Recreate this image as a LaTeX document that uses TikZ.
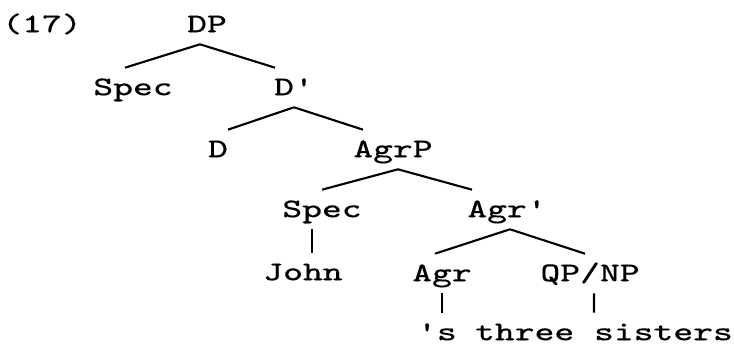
\documentclass[tikz,border=0pt]{standalone}
\usepackage{fontspec}
\newfontfamily\treefont[FakeStretch=1.38,FakeBold=0.2,Ligatures=TeXOff]{Latin Modern Mono}
\usetikzlibrary{positioning}

\begin{document}
\begin{tikzpicture}[on grid, line width=0.6pt,
    every node/.style={font=\treefont\fontsize{7.7}{9}\selectfont,
      inner xsep=0pt, inner ysep=0.11cm, text height=0.155cm, text depth=0pt}]
    \useasboundingbox (0,0) rectangle (7.34,-3.5);
    \node (dp) at (2.07,-0.245) {DP};
    \node[left=1.65cm of dp] (ex) {(17)};
    \node[below left=0.63cm and 0.74cm of dp] (spec1) {Spec};
    \node[below right=0.63cm and 0.87cm of dp] (dbar) {D'};
    \node[below left=0.62cm and 0.76cm of dbar] (d) {D};
    \node[below right=0.62cm and 0.99cm of dbar] (agrp) {AgrP};
    \node[below left=0.60cm and 0.71cm of agrp] (spec2) {Spec};
    \node[below right=0.60cm and 1.14cm of agrp] (agrbar) {Agr'};
    \node[below left=0.63cm and 0.19cm of spec2] (john) {John};
    \node[below left=0.64cm and 0.65cm of agrbar] (agr) {Agr};
    \node[below right=0.64cm and 0.83cm of agrbar] (qpnp) {QP/NP};
    \node[below left=0.59cm and 0.05cm of agr] (poss) {'s};
    \node[below right=0.59cm and 0.14cm of qpnp] (sisters) {three sisters};
    % branches
    \draw ([xshift=-0.07cm]dp.south) -- ([xshift=-0.08cm]spec1.north);
    \draw ([xshift=-0.07cm]dp.south) -- ([xshift=-0.19cm]dbar.north);
    \draw (dbar.south) -- ([xshift=0.1cm]d.north);
    \draw (dbar.south) -- ([xshift=-0.3cm]agrp.north);
    \draw ([xshift=0.05cm]agrp.south) -- (spec2.north);
    \draw ([xshift=0.05cm]agrp.south) -- ([xshift=-0.35cm]agrbar.north);
    \draw ([xshift=0.03cm]agrbar.south) -- ([xshift=-0.07cm]agr.north);
    \draw ([xshift=0.03cm]agrbar.south) -- ([xshift=-0.05cm]qpnp.north);
    % unary lines
    \draw ([xshift=-0.1cm]spec2.south) -- ([xshift=0.09cm]john.north);
    \draw (agr.south) -- ([xshift=0.05cm]poss.north);
    \draw ([xshift=0.04cm]qpnp.south) -- ([xshift=-0.1cm]sisters.north);
\end{tikzpicture}
\end{document}
